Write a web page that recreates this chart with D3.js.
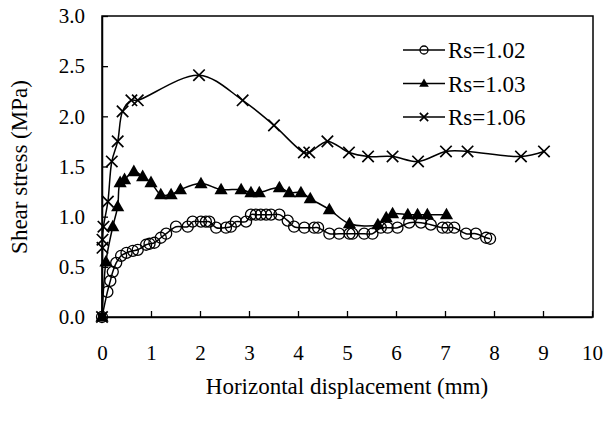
<!DOCTYPE html>
<html>
<head>
<meta charset="utf-8">
<script src="https://cdn.jsdelivr.net/npm/d3@7"></script>
<style>
  body { margin: 0; background: #fff; }
  text { font-family: "Liberation Serif", "Times New Roman", serif; fill: #000; }
</style>
</head>
<body>
<script>
// Rs=1.02 (open circles)
var rs102X = [0, 0.11, 0.17, 0.22, 0.29, 0.39, 0.5, 0.63, 0.73, 0.9, 0.97, 1.07, 1.2, 1.31, 1.51, 1.75, 1.85, 2.02, 2.12, 2.19, 2.33, 2.53, 2.63, 2.73, 2.94, 3.04, 3.14, 3.24, 3.35, 3.45, 3.62, 3.79, 3.92, 4.13, 4.33, 4.41, 4.64, 4.84, 5.05, 5.11, 5.35, 5.52, 5.69, 5.83, 6.03, 6.27, 6.51, 6.71, 6.95, 7.05, 7.19, 7.43, 7.63, 7.84, 7.92];
var rs102Y = [0, 0.25, 0.36, 0.45, 0.54, 0.61, 0.64, 0.66, 0.67, 0.72, 0.73, 0.74, 0.79, 0.83, 0.9, 0.9, 0.95, 0.95, 0.95, 0.95, 0.89, 0.89, 0.9, 0.95, 0.95, 1.02, 1.02, 1.02, 1.02, 1.02, 1.02, 0.96, 0.9, 0.89, 0.89, 0.89, 0.83, 0.83, 0.83, 0.83, 0.83, 0.83, 0.89, 0.89, 0.89, 0.94, 0.94, 0.92, 0.89, 0.89, 0.89, 0.83, 0.83, 0.79, 0.78];

// Rs=1.03 (filled triangles)
var rs103X = [0, 0.08, 0.22, 0.32, 0.37, 0.46, 0.65, 0.83, 1.0, 1.2, 1.41, 1.6, 2.02, 2.43, 2.84, 3.04, 3.21, 3.62, 3.82, 4.06, 4.25, 4.64, 5.05, 5.63, 5.8, 5.93, 6.24, 6.44, 6.64, 7.03];
var rs103Y = [0, 0.55, 0.9, 1.1, 1.34, 1.37, 1.45, 1.4, 1.34, 1.22, 1.22, 1.27, 1.33, 1.27, 1.27, 1.24, 1.24, 1.29, 1.24, 1.24, 1.18, 1.07, 0.93, 0.92, 0.99, 1.03, 1.02, 1.02, 1.02, 1.02];

// Rs=1.06 (crosses)
var rs106X = [0, 0.01, 0.01, 0.03, 0.12, 0.2, 0.32, 0.42, 0.6, 0.73, 1.98, 2.87, 3.51, 4.12, 4.23, 4.6, 5.04, 5.43, 5.93, 6.45, 7.02, 7.46, 8.55, 9.02];
var rs106Y = [0, 0.69, 0.77, 0.9, 1.15, 1.55, 1.75, 2.05, 2.16, 2.16, 2.41, 2.16, 1.91, 1.64, 1.64, 1.75, 1.64, 1.6, 1.6, 1.55, 1.65, 1.65, 1.6, 1.65];

var seriesNames = ["Rs=1.02", "Rs=1.03", "Rs=1.06"];
var xTicks = [0, 1, 2, 3, 4, 5, 6, 7, 8, 9, 10];
var yTicks = [0, 0.5, 1.0, 1.5, 2.0, 2.5, 3.0];

const svgWidth = 604,
    svgHeight = 423,
    margin = { top: 16, right: 11, bottom: 106, left: 102 },
    width = svgWidth - margin.left - margin.right,
    height = svgHeight - margin.top - margin.bottom;

var svg = d3.select("body").append("svg")
    .attr("width", svgWidth)
    .attr("height", svgHeight);

var g = svg.append("g")
    .attr("transform", "translate(" + margin.left + "," + margin.top + ")");

var x = d3.scaleLinear().domain([0, 10]).range([0, width - 1]);
var y = d3.scaleLinear().domain([0, 3]).range([height, 0]);

// frame
g.append("rect")
    .attr("x", 0).attr("y", 0)
    .attr("width", width).attr("height", height)
    .attr("fill", "none").attr("stroke", "#000").attr("stroke-width", 1.5);

// axes, ticks pointing inwards
var xAxis = g.append("g")
    .attr("transform", "translate(0," + height + ")")
    .call(d3.axisBottom(x).tickValues(xTicks).tickSizeInner(-6).tickSizeOuter(0).tickPadding(28));
var yAxis = g.append("g")
    .call(d3.axisLeft(y).tickValues(yTicks).tickFormat(d3.format(".1f")).tickSizeInner(-6).tickSizeOuter(0).tickPadding(17));

[xAxis, yAxis].forEach(function (a) {
    a.select(".domain").attr("stroke-width", 1.5);
    a.selectAll(".tick line").attr("stroke-width", 1.3);
    a.selectAll("text")
        .style("font-family", "'Liberation Serif', serif")
        .style("font-size", "21px");
});

// axis titles
svg.append("text")
    .attr("x", 347).attr("y", 394)
    .attr("text-anchor", "middle")
    .style("font-size", "23px")
    .text("Horizontal displacement (mm)");

svg.append("text")
    .attr("transform", "translate(27,167) rotate(-90)")
    .attr("text-anchor", "middle")
    .style("font-size", "23px")
    .text("Shear stress (MPa)");

var line = d3.line()
    .x(function (d) { return x(d[0]); })
    .y(function (d) { return y(d[1]); })
    .curve(d3.curveCatmullRom.alpha(0.5));

var series = [
    { name: seriesNames[0], pts: d3.zip(rs102X, rs102Y), marker: "circle" },
    { name: seriesNames[1], pts: d3.zip(rs103X, rs103Y), marker: "triangle" },
    { name: seriesNames[2], pts: d3.zip(rs106X, rs106Y), marker: "cross" }
];

function drawMarker(sel, type, size) {
    if (type === "circle") {
        sel.append("circle").attr("r", size * 0.5)
            .attr("fill", "none").attr("stroke", "#000").attr("stroke-width", 1.3);
    } else if (type === "triangle") {
        var h = size * 1.05, w = size * 0.6;
        sel.append("path").attr("d", "M0," + (-h * 0.6) + "L" + w + "," + (h * 0.4) + "L" + (-w) + "," + (h * 0.4) + "Z")
            .attr("fill", "#000");
    } else {
        var s = size * 0.52;
        sel.append("path").attr("d", "M" + (-s) + "," + (-s) + "L" + s + "," + s + "M" + (-s) + "," + s + "L" + s + "," + (-s))
            .attr("stroke", "#000").attr("stroke-width", 1.7).attr("fill", "none");
    }
}

series.forEach(function (s) {
    g.append("path")
        .datum(s.pts)
        .attr("d", line)
        .attr("fill", "none")
        .attr("stroke", "#000")
        .attr("stroke-width", 1.5);

    g.append("g").selectAll("g")
        .data(s.pts).enter()
        .append("g")
        .attr("transform", function (d) { return "translate(" + x(d[0]) + "," + y(d[1]) + ")"; })
        .each(function () { drawMarker(d3.select(this), s.marker, 11); });
});

// origin blob where all series start
g.append("rect")
    .attr("x", x(0) - 4).attr("y", y(0) - 4)
    .attr("width", 8).attr("height", 8)
    .attr("fill", "#000");

// legend
var legend = svg.append("g").attr("transform", "translate(403,50)");
series.forEach(function (s, i) {
    var row = legend.append("g").attr("transform", "translate(0," + (i * 33.5) + ")");
    row.append("line").attr("x1", 0).attr("x2", 42)
        .attr("stroke", "#000").attr("stroke-width", 1.5);
    drawMarker(row.append("g").attr("transform", "translate(21,0)"), s.marker, 8);
    row.append("text")
        .attr("x", 45).attr("dy", "0.35em")
        .style("font-size", "23px")
        .text(s.name);
});
</script>
</body>
</html>
